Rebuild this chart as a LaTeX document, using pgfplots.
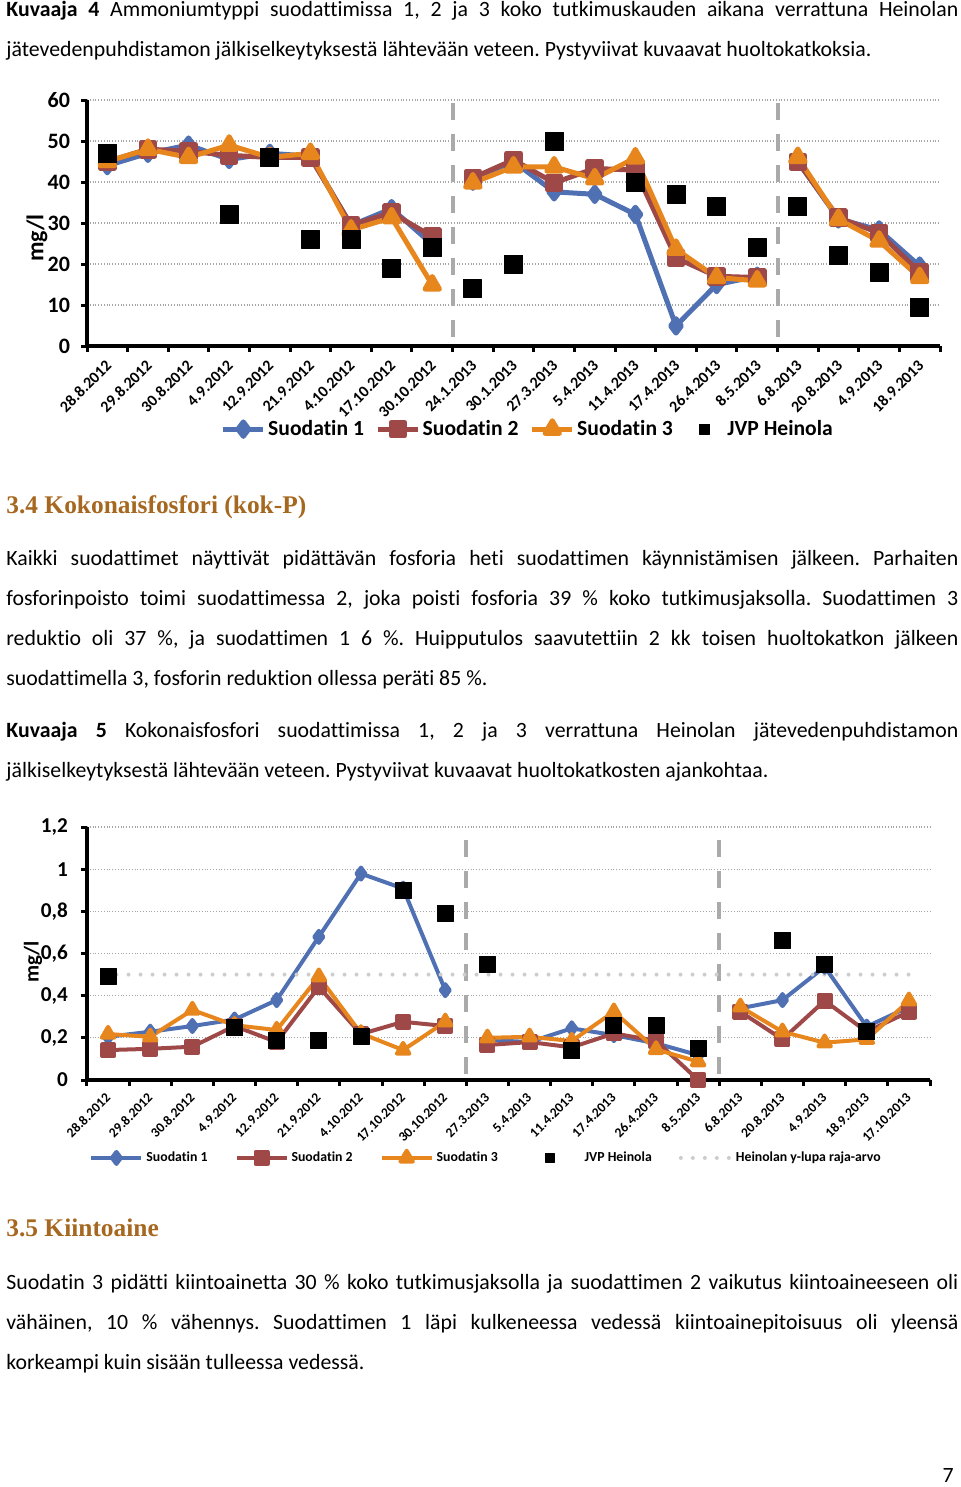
\documentclass[border=0pt]{standalone}
\usepackage{fontspec}
\setmainfont[Ligatures=NoCommon]{Carlito}
\newfontfamily\headfont{Liberation Serif}
\usepackage{pgfplots}
\pgfplotsset{compat=1.18}
\definecolor{sone}{RGB}{80,112,180}
\definecolor{stwo}{RGB}{158,72,72}
\definecolor{sthree}{RGB}{232,134,30}
\definecolor{dashgray}{RGB}{170,170,170}
\definecolor{refgray}{RGB}{205,205,205}
\definecolor{headcol}{RGB}{166,104,32}
\newcommand\fs[1]{\fontsize{#1}{#1}\selectfont}
\newcommand\jl[1]{\makebox[476pt][s]{#1}}
\pgfplotsset{
  jvpleg1/.style={legend image code/.code={\path (0pt,0pt) (20pt,0pt); \draw[##1, mark size=2.6pt] plot coordinates {(10pt,0pt)};}},
  jvpleg2/.style={legend image code/.code={\path (0pt,0pt) (28pt,0pt); \draw[##1, mark size=2.2pt] plot coordinates {(12.5pt,0pt)};}},
}
\frenchspacing
\begin{document}
\begin{tikzpicture}
\begin{scope}[x=0.5pt,y=-0.5pt]
\path[use as bounding box] (0,0) rectangle (960,1487);
\tikzset{tl/.style={anchor=base west, inner sep=0pt}}
\node[tl] at (6,17) {\fs{10.9}\jl{\textbf{Kuvaaja 4} Ammoniumtyppi suodattimissa 1, 2 ja 3 koko tutkimuskauden aikana verrattuna Heinolan}};
\node[tl] at (6,57) {\fs{10.9}jätevedenpuhdistamon jälkiselkeytyksestä lähtevään veteen. Pystyviivat kuvaavat huoltokatkoksia.};
\node[rotate=90, inner sep=0pt] at (37,238) {\bfseries\fs{12}mg/l};
\node[tl] at (6,513) {\headfont\bfseries\fs{12.7}\color{headcol}3.4 Kokonaisfosfori (kok-P)};
\node[tl] at (6,565) {\fs{10.9}\jl{Kaikki suodattimet näyttivät pidättävän fosforia heti suodattimen käynnistämisen jälkeen. Parhaiten}};
\node[tl] at (6,605) {\fs{10.9}\jl{fosforinpoisto toimi suodattimessa 2, joka poisti fosforia 39 \% koko tutkimusjaksolla. Suodattimen 3}};
\node[tl] at (6,645) {\fs{10.9}\jl{reduktio oli 37 \%, ja suodattimen 1 6 \%. Huipputulos saavutettiin 2 kk toisen huoltokatkon jälkeen}};
\node[tl] at (6,685) {\fs{10.9}suodattimella 3, fosforin reduktion ollessa peräti 85 \%.};
\node[tl] at (6,737) {\fs{10.9}\jl{\textbf{Kuvaaja 5} Kokonaisfosfori suodattimissa 1, 2 ja 3 verrattuna Heinolan jätevedenpuhdistamon}};
\node[tl] at (6,777) {\fs{10.9}jälkiselkeytyksestä lähtevään veteen. Pystyviivat kuvaavat huoltokatkosten ajankohtaa.};
\node[rotate=90, inner sep=0pt] at (33,962) {\bfseries\fs{10.5}mg/l};
\node[tl] at (6,1236) {\headfont\bfseries\fs{12.7}\color{headcol}3.5 Kiintoaine};
\node[tl] at (6,1289) {\fs{10.9}\jl{Suodatin 3 pidätti kiintoainetta 30 \% koko tutkimusjaksolla ja suodattimen 2 vaikutus kiintoaineeseen oli}};
\node[tl] at (6,1329) {\fs{10.9}\jl{vähäinen, 10 \% vähennys. Suodattimen 1 läpi kulkeneessa vedessä kiintoainepitoisuus oli yleensä}};
\node[tl] at (6,1369) {\fs{10.9}korkeampi kuin sisään tulleessa vedessä.};
\node[anchor=base east, inner sep=0pt] at (954,1482) {\fs{10.9}7};
\end{scope}

% ---------------- Chart 1 ----------------
\begin{axis}[
  at={(43.5pt,-173pt)}, anchor=south west,
  scale only axis, width=426.5pt, height=123pt,
  xmin=-0.5, xmax=20.5, ymin=0, ymax=60,
  axis lines*=left,
  axis line style={black, line width=2pt},
  xtick={-0.5,0.5,...,20.5},
  x tick label as interval,
  xticklabels={28.8.2012,29.8.2012,30.8.2012,4.9.2012,12.9.2012,21.9.2012,4.10.2012,17.10.2012,30.10.2012,24.1.2013,30.1.2013,27.3.2013,5.4.2013,11.4.2013,17.4.2013,26.4.2013,8.5.2013,6.8.2013,20.8.2013,4.9.2013,18.9.2013},
  xticklabel style={font=\bfseries\fs{8}, rotate=45, anchor=north east, yshift=2pt},
  ytick={0,10,...,60},
  yticklabels={0,10,20,30,40,50,60},
  yticklabel style={font=\bfseries\fs{11}, xshift=-2pt},
  tick align=outside,
  major tick length=3pt,
  tick style={black, line width=1.5pt},
  ymajorgrids,
  major grid style={densely dotted, black!35, line width=0.6pt},
  clip=false,
  unbounded coords=jump,
  legend columns=4,
  legend style={at={(0.517,-0.338)}, anchor=center, draw=none, fill=none,
    font=\bfseries\fs{10.8}, nodes={inner sep=1.2pt},
    /tikz/every even column/.append style={column sep=4.5pt}},
  legend image code/.code={\draw[mark repeat=2,mark phase=2,#1] plot coordinates {(0pt,0pt) (10pt,0pt) (20pt,0pt)};},
  every axis plot/.append style={line join=round},
]
\addplot[dashgray, line width=2pt, dash pattern=on 8.5pt off 7pt, forget plot] coordinates {(8.5,2.3) (8.5,60)};
\addplot[dashgray, line width=2pt, dash pattern=on 8.5pt off 7pt, forget plot] coordinates {(16.5,2.3) (16.5,60)};
\addplot[sone, line width=2.5pt, mark=diamond*, mark size=3.6pt, mark options={solid}] coordinates {
 (0,44) (1,47) (2,49) (3,45.5) (4,47) (5,46.3) (6,29.4) (7,33.5) (8,24.8) (8.5,nan)
 (9,40.2) (10,45) (11,37.6) (12,37) (13,32.1) (14,4.9) (15,15) (16,17) (16.5,nan)
 (17,45) (18,31) (19,28.3) (20,19.5)};
\addlegendentry{Suodatin 1}
\addplot[stwo, line width=2.5pt, mark=square*, mark size=3.4pt, mark options={solid}] coordinates {
 (0,45) (1,48) (2,47.5) (3,46.5) (4,46) (5,46) (6,29.5) (7,32.5) (8,26.7) (8.5,nan)
 (9,41) (10,45.4) (11,39.8) (12,43.3) (13,42.9) (14,21.5) (15,17) (16,16.7) (16.5,nan)
 (17,44.9) (18,31.3) (19,27.6) (20,18)};
\addlegendentry{Suodatin 2}
\addplot[sthree, line width=2.5pt, mark=triangle*, mark size=4.2pt, mark options={solid}] coordinates {
 (0,45) (1,48) (2,46) (3,49) (4,46) (5,47) (6,28.3) (7,31.3) (8,14.9) (8.5,nan)
 (9,39.8) (10,43.7) (11,43.7) (12,40.8) (13,45.9) (14,23.6) (15,16.7) (16,15.9) (16.5,nan)
 (17,46) (18,30.9) (19,25.6) (20,16.7)};
\addlegendentry{Suodatin 3}
\addplot[only marks, black, mark=square*, mark size=4.5pt, jvpleg1] coordinates {
 (0,47) (3,32) (4,46) (5,26) (6,26) (7,19) (8,24) (9,14) (10,20) (11,50)
 (13,40) (14,37) (15,34) (16,24) (17,34) (18,22) (19,18) (20,9.5)};
\addlegendentry{JVP Heinola}
\end{axis}

% ---------------- Chart 2 ----------------
\begin{axis}[
  at={(43.5pt,-540pt)}, anchor=south west,
  scale only axis, width=421.5pt, height=126.5pt,
  xmin=-0.5, xmax=19.5, ymin=0, ymax=1.2,
  axis lines*=left,
  axis line style={black, line width=2pt},
  xtick={-0.5,0.5,...,19.5},
  x tick label as interval,
  xticklabels={28.8.2012,29.8.2012,30.8.2012,4.9.2012,12.9.2012,21.9.2012,4.10.2012,17.10.2012,30.10.2012,27.3.2013,5.4.2013,11.4.2013,17.4.2013,26.4.2013,8.5.2013,6.8.2013,20.8.2013,4.9.2013,18.9.2013,17.10.2013},
  xticklabel style={font=\bfseries\fs{6.8}, rotate=45, anchor=north east, yshift=2.5pt},
  ytick={0,0.2,...,1.2},
  yticklabels={0,{0,2},{0,4},{0,6},{0,8},1,{1,2}},
  yticklabel style={font=\bfseries\fs{10.6}, xshift=-3pt},
  tick align=outside,
  major tick length=3pt,
  tick style={black, line width=1.5pt},
  ymajorgrids,
  major grid style={densely dotted, black!35, line width=0.6pt},
  clip=false,
  unbounded coords=jump,
  legend columns=5,
  legend style={at={(0.474,-0.308)}, anchor=center, draw=none, fill=none,
    font=\bfseries\fs{6.9}, nodes={inner sep=1.5pt},
    /tikz/every even column/.append style={column sep=12pt}},
  legend image code/.code={\draw[mark repeat=2,mark phase=2,#1] plot coordinates {(0pt,0pt) (12.5pt,0pt) (25pt,0pt)};},
  every axis plot/.append style={line join=round},
]
\addplot[dashgray, line width=2pt, dash pattern=on 8.5pt off 7pt, forget plot] coordinates {(8.5,0.03) (8.5,1.2)};
\addplot[dashgray, line width=2pt, dash pattern=on 8.5pt off 7pt, forget plot] coordinates {(14.5,0.03) (14.5,1.2)};
\addplot[sone, line width=2pt, mark=diamond*, mark size=3pt, mark options={solid}] coordinates {
 (0,0.205) (1,0.229) (2,0.256) (3,0.287) (4,0.379) (5,0.679) (6,0.979) (7,0.908) (8,0.426) (8.5,nan)
 (9,0.19) (10,0.18) (11,0.245) (12,0.213) (13,0.174) (14,0.118) (14.5,nan)
 (15,0.34) (16,0.379) (17,0.537) (18,0.253) (19,0.347)};
\addlegendentry{Suodatin 1}
\addplot[stwo, line width=2pt, mark=square*, mark size=3pt, mark options={solid}] coordinates {
 (0,0.142) (1,0.148) (2,0.158) (3,0.256) (4,0.18) (5,0.442) (6,0.218) (7,0.276) (8,0.256) (8.5,nan)
 (9,0.166) (10,0.18) (11,0.155) (12,0.221) (13,0.186) (14,0.0) (14.5,nan)
 (15,0.324) (16,0.193) (17,0.376) (18,0.229) (19,0.324)};
\addlegendentry{Suodatin 2}
\addplot[sthree, line width=2pt, mark=triangle*, mark size=3.6pt, mark options={solid}] coordinates {
 (0,0.218) (1,0.205) (2,0.332) (3,0.26) (4,0.237) (5,0.49) (6,0.221) (7,0.142) (8,0.276) (8.5,nan)
 (9,0.2) (10,0.205) (11,0.185) (12,0.324) (13,0.145) (14,0.087) (14.5,nan)
 (15,0.347) (16,0.229) (17,0.177) (18,0.193) (19,0.376)};
\addlegendentry{Suodatin 3}
\addplot[only marks, black, mark=square*, mark size=4pt, jvpleg2] coordinates {
 (0,0.49) (3,0.249) (4,0.19) (5,0.19) (6,0.208) (7,0.9) (8,0.79) (9,0.55)
 (11,0.139) (12,0.26) (13,0.26) (14,0.15) (16,0.66) (17,0.55) (18,0.229)};
\addlegendentry{JVP Heinola}
\addplot[refgray, line width=2pt, dash pattern=on 0pt off 6pt, line cap=round] coordinates {(0.2,0.5) (19,0.5)};
\addlegendentry{Heinolan y-lupa raja-arvo}
\end{axis}
\end{tikzpicture}
\end{document}
